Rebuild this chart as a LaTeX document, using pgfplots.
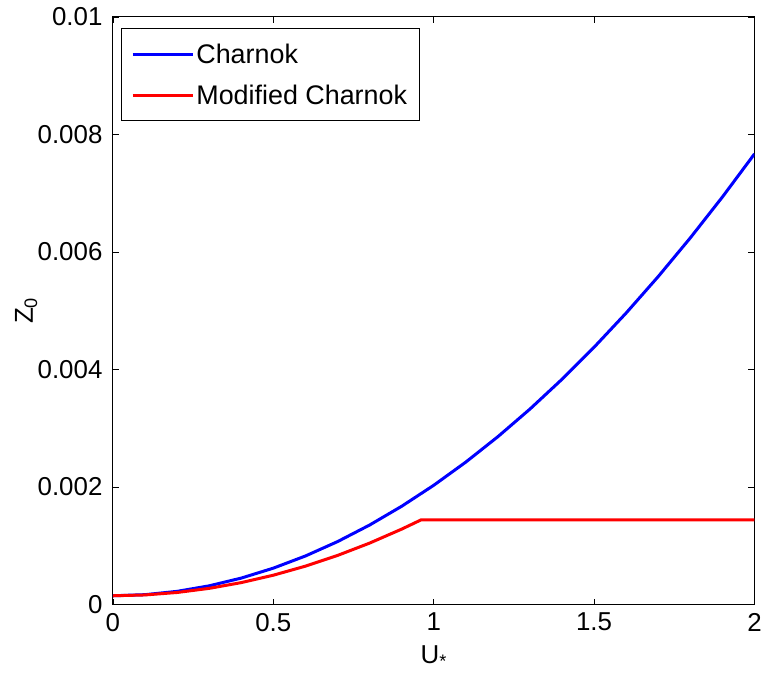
\documentclass[border=0pt]{standalone}
\usepackage{pgfplots}
\pgfplotsset{compat=1.18}
\usepackage{fontspec}
\setmainfont{Liberation Sans}
\begin{document}
\begin{tikzpicture}
\begin{axis}[
  name=ax,
  scale only axis,
  width=642bp, height=588bp,
  xmin=0, xmax=2, ymin=0, ymax=0.01,
  xtick={0,0.5,1,1.5,2},
  xticklabels={0,0.5,1,1.5,2},
  ytick={0,0.002,0.004,0.006,0.008,0.01},
  yticklabels={0,0.002,0.004,0.006,0.008,0.01},
  scaled y ticks=false,
  tick align=inside,
  major tick length=6bp,
  tick style={black, line width=0.6bp},
  axis line style={black, line width=1bp},
  ticklabel style={font=\fontsize{26}{29}\selectfont},
  xticklabel style={yshift=-5bp},
  yticklabel style={xshift=-7bp},
  xlabel={U\textsubscript{*}},
  ylabel={Z\textsubscript{0}},
  label style={font=\fontsize{26}{29}\selectfont},
  xlabel style={at={(axis description cs:0.5,-0.1)}, anchor=base},
  ylabel style={at={(axis description cs:-0.1246,0.5)}, anchor=base},
  legend style={at={(0.0125,0.981)}, anchor=north west, draw=black, line width=1bp,
    font=\fontsize{27}{30}\selectfont, inner xsep=10bp, inner ysep=13bp,
    row sep=16bp},
  legend cell align=left,
  legend image code/.code={\draw[#1, line width=3bp] (0bp,0bp) -- (57bp,0bp);
    \path (0bp,0bp) -- (60bp,0bp);},
]
\addplot[blue, line width=3bp] coordinates {
(0,0.00015) (0.1,0.0001688) (0.2,0.0002252) (0.3,0.0003192) (0.4,0.0004508)
(0.5,0.00062) (0.6,0.0008268) (0.7,0.0010712) (0.8,0.0013532) (0.9,0.0016728)
(1.0,0.00203) (1.1,0.0024248) (1.2,0.0028572) (1.3,0.0033272) (1.4,0.0038348)
(1.5,0.00438) (1.6,0.0049628) (1.7,0.0055832) (1.8,0.0062412) (1.9,0.0069368)
(2.0,0.00767)};
\addlegendentry{Charnok}
\addplot[red, line width=3bp] coordinates {
(0,0.00015) (0.1,0.000164) (0.2,0.000206) (0.3,0.000276) (0.4,0.000374)
(0.5,0.0005) (0.6,0.000654) (0.7,0.000836) (0.8,0.001046) (0.9,0.001284)
(0.96,0.00144) (2,0.00144)};
\addlegendentry{Modified Charnok}
\end{axis}
\path ([xshift=-113bp,yshift=-68bp]ax.south west) rectangle ([xshift=10bp,yshift=17bp]ax.north east);
\end{tikzpicture}
\end{document}
